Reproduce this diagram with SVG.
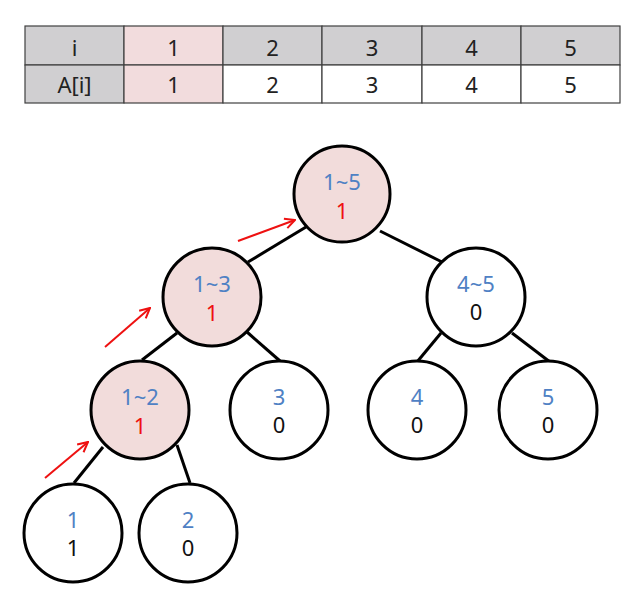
<svg xmlns="http://www.w3.org/2000/svg" width="643" height="616" viewBox="0 0 643 616">
<style>
  text { font-family: "Noto Sans", "Open Sans", "Liberation Sans", sans-serif; font-size: 22px; text-anchor: middle; }
  .th { fill: #d0cfd1; stroke: #404040; stroke-width: 1.2; }
  .td { fill: #ffffff; stroke: #404040; stroke-width: 1.2; }
  .hl { fill: #f2dcdd; stroke: #404040; stroke-width: 1.2; }
  .tt { fill: #222222; }
  .node { fill: #ffffff; stroke: #000000; stroke-width: 3; }
  .node.on { fill: #f2dcdb; }
  .lbl { fill: #4f81c4; }
  .val { fill: #111111; }
  .val.on { fill: #ee1111; }
  .edge { stroke: #000000; stroke-width: 3; fill: none; }
  .arr { stroke: #ee1111; stroke-width: 2; fill: none; }
</style>
<defs>
  <marker id="ah" viewBox="0 0 12 12" refX="11" refY="6" markerWidth="12" markerHeight="12" markerUnits="userSpaceOnUse" orient="auto">
    <path d="M1,1 L11,6 L1,11" fill="none" stroke="#ee1111" stroke-width="2"/>
  </marker>
</defs>
<rect width="643" height="616" fill="#ffffff"/>
<g id="table">
  <rect class="th" x="25" y="26" width="99" height="39"/>
  <rect class="hl" x="124" y="26" width="99" height="39"/>
  <rect class="th" x="223" y="26" width="99" height="39"/>
  <rect class="th" x="322" y="26" width="100" height="39"/>
  <rect class="th" x="422" y="26" width="99" height="39"/>
  <rect class="th" x="521" y="26" width="99" height="39"/>
  <rect class="th" x="25" y="65" width="99" height="38"/>
  <rect class="hl" x="124" y="65" width="99" height="38"/>
  <rect class="td" x="223" y="65" width="99" height="38"/>
  <rect class="td" x="322" y="65" width="100" height="38"/>
  <rect class="td" x="422" y="65" width="99" height="38"/>
  <rect class="td" x="521" y="65" width="99" height="38"/>
  <text class="tt" x="74.5" y="56">i</text>
  <text class="tt" x="173.5" y="56">1</text>
  <text class="tt" x="272.5" y="56">2</text>
  <text class="tt" x="372" y="56">3</text>
  <text class="tt" x="471.5" y="56">4</text>
  <text class="tt" x="570.5" y="56">5</text>
  <text class="tt" x="74.5" y="93">A[i]</text>
  <text class="tt" x="173.5" y="93">1</text>
  <text class="tt" x="272.5" y="93">2</text>
  <text class="tt" x="372" y="93">3</text>
  <text class="tt" x="471.5" y="93">4</text>
  <text class="tt" x="570.5" y="93">5</text>
</g>
<g id="connectors">
  <line class="edge" x1="306" y1="227" x2="248" y2="262"/>
  <line class="edge" x1="380" y1="231" x2="442" y2="262"/>
  <line class="edge" x1="177" y1="333" x2="142" y2="360"/>
  <line class="edge" x1="247" y1="332" x2="280" y2="361"/>
  <line class="edge" x1="441" y1="333" x2="417" y2="362"/>
  <line class="edge" x1="512" y1="333" x2="550" y2="362"/>
  <line class="edge" x1="103" y1="447" x2="74" y2="483"/>
  <line class="edge" x1="177" y1="445" x2="190" y2="483"/>
  <line class="arr" x1="238" y1="241" x2="295" y2="220" marker-end="url(#ah)"/>
  <line class="arr" x1="105" y1="347" x2="150" y2="308" marker-end="url(#ah)"/>
  <line class="arr" x1="45" y1="478" x2="88" y2="442" marker-end="url(#ah)"/>
</g>
<g id="n1-5">
  <circle class="node on" cx="342" cy="194" r="48"/>
  <text class="lbl" x="342" y="190">1~5</text>
  <text class="val on" x="342" y="219">1</text>
</g>
<g id="n1-3">
  <circle class="node on" cx="212" cy="297" r="49"/>
  <text class="lbl" x="212" y="292">1~3</text>
  <text class="val on" x="212" y="321">1</text>
</g>
<g id="n4-5">
  <circle class="node" cx="476" cy="297" r="49"/>
  <text class="lbl" x="476" y="292">4~5</text>
  <text class="val" x="476" y="320">0</text>
</g>
<g id="n1-2">
  <circle class="node on" cx="140" cy="410" r="49"/>
  <text class="lbl" x="140" y="405">1~2</text>
  <text class="val on" x="140" y="434">1</text>
</g>
<g id="n3">
  <circle class="node" cx="279" cy="410" r="49"/>
  <text class="lbl" x="279" y="405">3</text>
  <text class="val" x="279" y="433">0</text>
</g>
<g id="n4">
  <circle class="node" cx="417" cy="410" r="49"/>
  <text class="lbl" x="417" y="405">4</text>
  <text class="val" x="417" y="433">0</text>
</g>
<g id="n5">
  <circle class="node" cx="548" cy="410" r="49"/>
  <text class="lbl" x="548" y="405">5</text>
  <text class="val" x="548" y="433">0</text>
</g>
<g id="leaf1">
  <circle class="node" cx="73" cy="533" r="49"/>
  <text class="lbl" x="73" y="528">1</text>
  <text class="val" x="73" y="556">1</text>
</g>
<g id="leaf2">
  <circle class="node" cx="188" cy="533" r="49"/>
  <text class="lbl" x="188" y="528">2</text>
  <text class="val" x="188" y="556">0</text>
</g>
</svg>
